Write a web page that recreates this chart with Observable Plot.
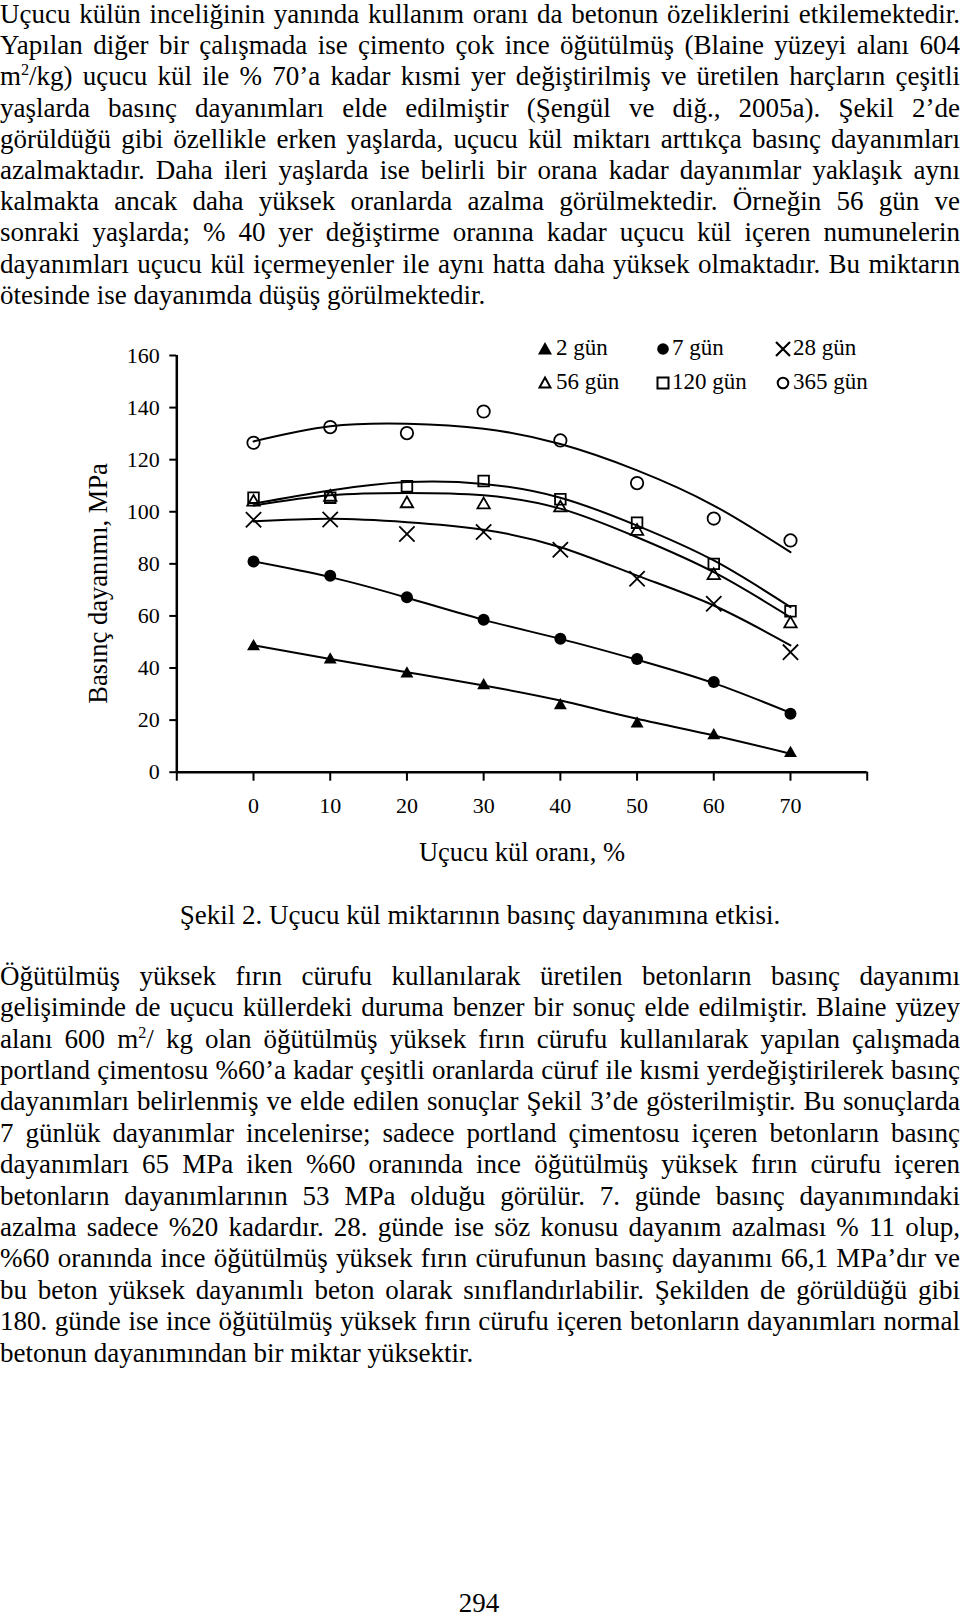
<!DOCTYPE html>
<html>
<head>
<meta charset="utf-8">
<script src="https://cdn.jsdelivr.net/npm/d3@7"></script>
<script src="https://cdn.jsdelivr.net/npm/@observablehq/plot@0.6"></script>
<style>
  html, body { margin: 0; padding: 0; background: #fff; }
  #page { position: relative; width: 960px; height: 1617px; overflow: hidden; background: #fff;
          font-family: "Liberation Serif", "Times New Roman", serif; color: #000; }
  .para { position: absolute; left: 0; width: 960px; font-size: 27px; }
  .ln { text-align: justify; text-align-last: justify; white-space: normal; }
  .ln.last { text-align-last: left; }
  sup { font-size: 60%; line-height: 0; vertical-align: 0.62em; }
  #caption { position: absolute; left: 0; width: 960px; top: 900px; text-align: center; font-size: 27px; line-height: 31.2px; }
  #pagenum { position: absolute; left: 0; width: 958px; top: 1588px; text-align: center; font-size: 27px; line-height: 31.2px; }
  #chart { position: absolute; left: 0; top: 330px; }
  #legend { position: absolute; left: 0; top: 0; font-size: 23px; }
  .li { position: absolute; white-space: nowrap; line-height: 24px; }
  .li svg { position: absolute; overflow: visible; }
  #chart svg [aria-label$="tick"] path { stroke-width: 2; }
</style>
</head>
<body>
<div id="page">
  <div class="para" id="p1" style="top:-1px; line-height:31.2px;">
    <div class="ln">Uçucu külün inceliğinin yanında kullanım oranı da betonun özeliklerini etkilemektedir.</div>
    <div class="ln">Yapılan diğer bir çalışmada ise çimento çok ince öğütülmüş (Blaine yüzeyi alanı 604</div>
    <div class="ln">m<sup>2</sup>/kg) uçucu kül ile % 70’a kadar kısmi yer değiştirilmiş ve üretilen harçların çeşitli</div>
    <div class="ln">yaşlarda basınç dayanımları elde edilmiştir (Şengül ve diğ., 2005a). Şekil 2’de</div>
    <div class="ln">görüldüğü gibi özellikle erken yaşlarda, uçucu kül miktarı arttıkça basınç dayanımları</div>
    <div class="ln">azalmaktadır. Daha ileri yaşlarda ise belirli bir orana kadar dayanımlar yaklaşık aynı</div>
    <div class="ln">kalmakta ancak daha yüksek oranlarda azalma görülmektedir. Örneğin 56 gün ve</div>
    <div class="ln">sonraki yaşlarda; % 40 yer değiştirme oranına kadar uçucu kül içeren numunelerin</div>
    <div class="ln">dayanımları uçucu kül içermeyenler ile aynı hatta daha yüksek olmaktadır. Bu miktarın</div>
    <div class="ln last">ötesinde ise dayanımda düşüş görülmektedir.</div>
  </div>

  <div id="chart"></div>
  <div id="legend"></div>

  <div id="caption">Şekil 2. Uçucu kül miktarının basınç dayanımına etkisi.</div>

  <div class="para" id="p2" style="top:960.8px; line-height:31.4px;">
    <div class="ln">Öğütülmüş yüksek fırın cürufu kullanılarak üretilen betonların basınç dayanımı</div>
    <div class="ln">gelişiminde de uçucu küllerdeki duruma benzer bir sonuç elde edilmiştir. Blaine yüzey</div>
    <div class="ln">alanı 600 m<sup>2</sup>/ kg olan öğütülmüş yüksek fırın cürufu kullanılarak yapılan çalışmada</div>
    <div class="ln">portland çimentosu %60’a kadar çeşitli oranlarda cüruf ile kısmi yerdeğiştirilerek basınç</div>
    <div class="ln">dayanımları belirlenmiş ve elde edilen sonuçlar Şekil 3’de gösterilmiştir. Bu sonuçlarda</div>
    <div class="ln">7 günlük dayanımlar incelenirse; sadece portland çimentosu içeren betonların basınç</div>
    <div class="ln">dayanımları 65 MPa iken %60 oranında ince öğütülmüş yüksek fırın cürufu içeren</div>
    <div class="ln">betonların dayanımlarının 53 MPa olduğu görülür. 7. günde basınç dayanımındaki</div>
    <div class="ln">azalma sadece %20 kadardır. 28. günde ise söz konusu dayanım azalması % 11 olup,</div>
    <div class="ln">%60 oranında ince öğütülmüş yüksek fırın cürufunun basınç dayanımı 66,1 MPa’dır ve</div>
    <div class="ln">bu beton yüksek dayanımlı beton olarak sınıflandırlabilir. Şekilden de görüldüğü gibi</div>
    <div class="ln">180. günde ise ince öğütülmüş yüksek fırın cürufu içeren betonların dayanımları normal</div>
    <div class="ln last">betonun dayanımından bir miktar yüksektir.</div>
  </div>

  <div id="pagenum">294</div>
</div>

<script>
// ---- data ----
const flyAsh = [0, 10, 20, 30, 40, 50, 60, 70];          // Uçucu kül oranı, %
const xTicks = [-10, 0, 10, 20, 30, 40, 50, 60, 70, 80];
const xTickLabels = ["", "0", "10", "20", "30", "40", "50", "60", "70", ""];
const yTicks = [0, 20, 40, 60, 80, 100, 120, 140, 160];

const seriesNames = ["2 gün", "7 gün", "28 gün", "56 gün", "120 gün", "365 gün"];

// measured points (MPa)
const day2   = [48.3, 43.2, 37.8, 33.3, 25.6, 18.6, 14.1, 7.3];
const day7   = [80.9, 75.4, 67.2, 58.5, 51.2, 43.5, 34.6, 22.4];
const day28  = [96.9, 97.0, 91.5, 92.2, 85.4, 74.3, 64.7, 46.1];
const day56  = [103.7, 105.6, 103.1, 102.7, 101.5, 92.5, 75.5, 57.0];
const day120 = [105.4, 105.4, 109.8, 111.8, 104.8, 95.8, 80.0, 61.8];
const day365 = [126.5, 132.5, 130.2, 138.5, 127.4, 111.0, 97.4, 89.0];

// trend curves as drawn in the figure (MPa)
const trend2   = [48.7, 43.5, 38.4, 33.3, 27.5, 20.5, 14.1, 7.1];
const trend7   = [80.9, 74.9, 67.0, 58.5, 51.2, 43.2, 34.2, 22.8];
const trend28  = [96.3, 97.3, 96.0, 93.1, 86.4, 75.5, 64.0, 48.7];
const trend56  = [102.4, 106.3, 107.2, 106.3, 101.2, 90.2, 76.8, 59.5];
const trend120 = [103.1, 108.2, 111.4, 110.7, 105.4, 94.7, 81.3, 63.4];
const trend365 = [127.0, 132.8, 133.8, 131.9, 126.0, 115.9, 102.4, 84.5];

// ---- build tables ----
const pointSets = [day2, day7, day28, day56, day120, day365];
const trendSets = [trend2, trend7, trend28, trend56, trend120, trend365];
const styles = [
  {symbol: "triangle", fill: "black", stroke: "none", r: 4.8},
  {symbol: "circle",   fill: "black", stroke: "none", r: 6.0},
  {symbol: "times",    fill: "none",  stroke: "black", r: 7.0},
  {symbol: "triangle", fill: "none",  stroke: "black", r: 4.6},
  {symbol: "square",   fill: "none",  stroke: "black", r: 6.0},
  {symbol: "circle",   fill: "none",  stroke: "black", r: 6.2}
];

const points = [];
const trends = [];
seriesNames.forEach((name, i) => {
  flyAsh.forEach((x, j) => {
    points.push({series: name, x, y: pointSets[i][j]});
    trends.push({series: name, x, y: trendSets[i][j]});
  });
});

const marks = [
  Plot.ruleY([0], {stroke: "black", strokeWidth: 2.5}),
  Plot.ruleX([-10], {stroke: "black", strokeWidth: 2.5}),
  Plot.line(trends, {x: "x", y: "y", z: "series", curve: "natural", stroke: "black", strokeWidth: 2})
];
seriesNames.forEach((name, i) => {
  const st = styles[i];
  marks.push(Plot.dot(points.filter(d => d.series === name), {
    x: "x", y: "y", symbol: () => st.symbol, r: st.r,
    fill: st.fill, stroke: st.stroke, strokeWidth: 1.8
  }));
});
marks.push(Plot.text(["Uçucu kül oranı, %"], {frameAnchor: "bottom", lineAnchor: "middle", textAnchor: "middle", dy: 80, fontSize: 26.5}));
marks.push(Plot.text(["Basınç dayanımı, MPa"], {frameAnchor: "left", rotate: -90, textAnchor: "middle", lineAnchor: "middle", dx: -78.3, dy: 19.6, fontSize: 26.5}));

const chart = Plot.plot({
  width: 960,
  height: 540,
  marginLeft: 176.3,
  marginRight: 93.3,
  marginTop: 25,
  marginBottom: 98.3,
  x: {domain: [-10, 80], ticks: xTicks, tickFormat: (d) => xTickLabels[xTicks.indexOf(d)], tickSize: 9, tickPadding: 16, label: null},
  y: {domain: [0, 160], ticks: yTicks, tickSize: 7, tickPadding: 10, label: null},
  symbol: {type: "identity"},
  style: {fontFamily: "Liberation Serif, Times New Roman, serif", fontSize: "22px", color: "black", background: "white", overflow: "visible"},
  marks
});
document.getElementById("chart").appendChild(chart);

// ---- legend (HTML, overlaid at top-right of the chart) ----
const legendCols = [[544.7, 556], [662.5, 672], [783, 793]];
const legendRows = [349, 383];
const legendSvgs = [
  '<polygon points="0,-7 7,5.5 -7,5.5" fill="black"/>',
  '<circle r="5.8" fill="black"/>',
  '<path d="M-7,-7L7,7M-7,7L7,-7" stroke="black" stroke-width="2.2"/>',
  '<polygon points="0,-5.5 5.5,4.5 -5.5,4.5" fill="none" stroke="black" stroke-width="2"/>',
  '<rect x="-5.5" y="-5.5" width="11" height="11" fill="none" stroke="black" stroke-width="2"/>',
  '<circle r="5.3" fill="none" stroke="black" stroke-width="2"/>'
];
const legend = document.getElementById("legend");
seriesNames.forEach((name, i) => {
  const row = Math.floor(i / 3), col = i % 3;
  const [cx, tx] = legendCols[col];
  const cy = legendRows[row];
  const item = document.createElement("div");
  item.className = "li";
  item.style.left = tx + "px";
  item.style.top = (cy - 13) + "px";
  item.textContent = name;
  const svg = document.createElementNS("http://www.w3.org/2000/svg", "svg");
  svg.setAttribute("width", "1"); svg.setAttribute("height", "1");
  svg.style.left = (cx - tx) + "px";
  svg.style.top = "13px";
  svg.innerHTML = legendSvgs[i];
  item.appendChild(svg);
  legend.appendChild(item);
});
</script>
</body>
</html>
